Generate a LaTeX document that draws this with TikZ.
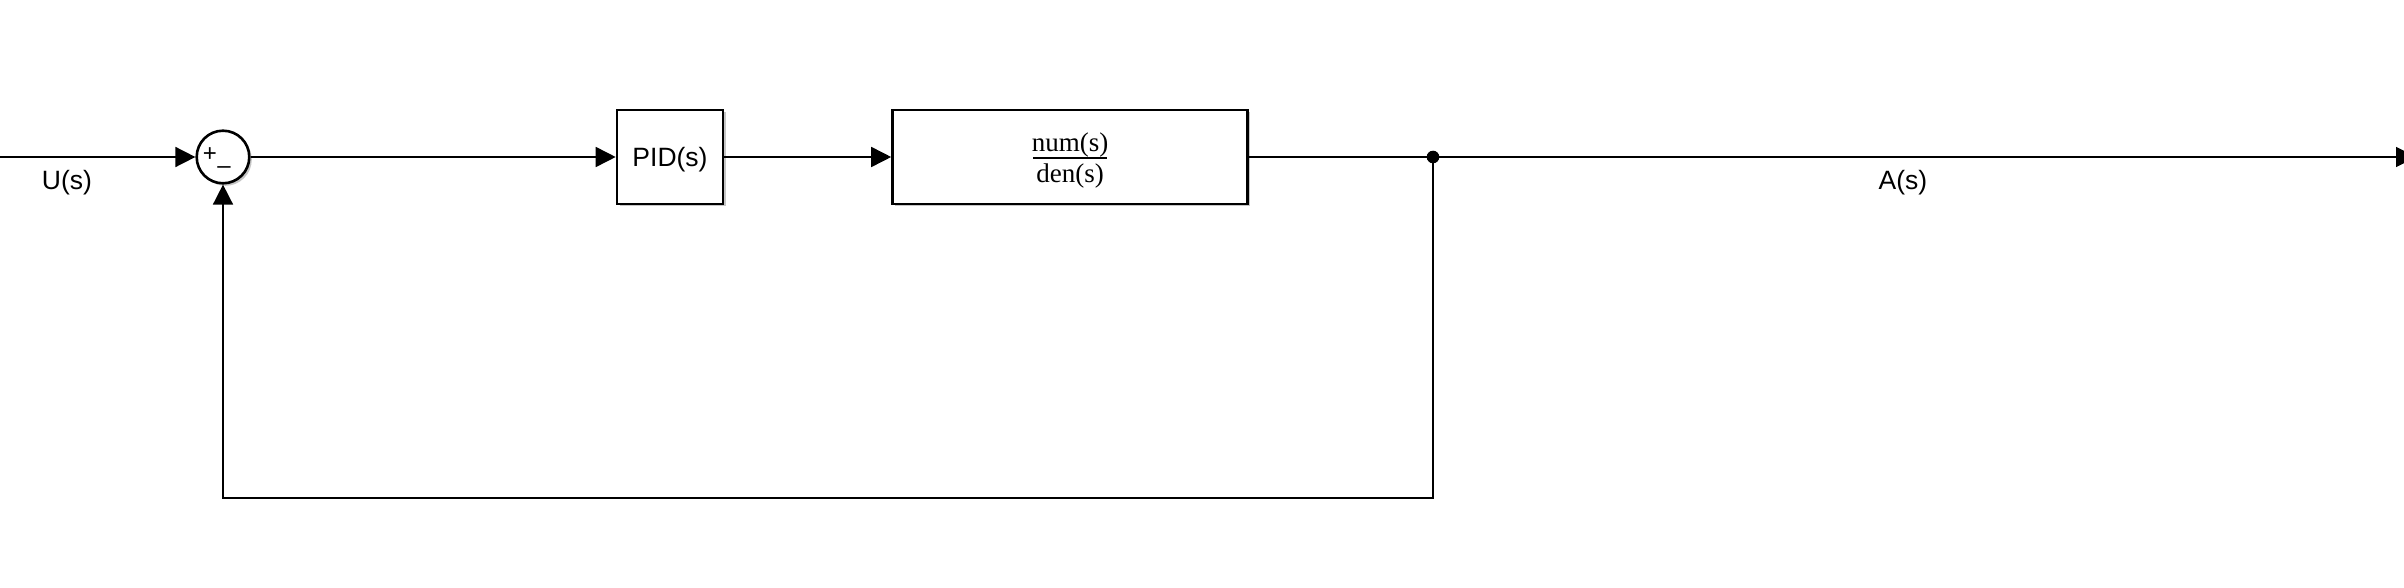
\documentclass[tikz,border=0pt]{standalone}
\usepackage{fontspec}
\setmainfont{Liberation Sans}
\newfontfamily\seriffam{Liberation Serif}
\usetikzlibrary{arrows.meta,shadows}
\begin{document}
\begin{tikzpicture}[x=1pt,y=-1pt,
  wire/.style={line width=1.6pt},
  arr/.style={wire,-{Triangle[length=20pt,width=20pt]}},
  blockbox/.style={draw,line width=2.6pt,fill=white,
    drop shadow={shadow xshift=2.5pt,shadow yshift=-2.5pt,opacity=0.45,fill=gray}},
  lbl/.style={font=\fontsize{26.5}{30}\selectfont},
  frac/.style={font=\seriffam\fontsize{27}{30}\selectfont,inner sep=0pt}]
\useasboundingbox (0,0) rectangle (2404,588);
\node[blockbox,circle,minimum size=52.6pt,inner sep=0pt] (sum) at (223,157) {};
\node[font=\fontsize{24}{26}\selectfont,inner sep=0pt] (plus) at (210,155) {+};
\node[font=\fontsize{24}{26}\selectfont,inner sep=0pt] (minus) at (224,170) {–};
\node[blockbox,minimum width=106pt,minimum height=94pt] (pid) at (670,157) {};
\node[lbl,anchor=base] (pidt) at (670,167) {PID(s)};
\node[blockbox,minimum width=355pt,minimum height=94pt] (tf) at (1070,157) {};
\node[frac,anchor=base] (num) at (1070,152) {num(s)};
\node[frac,anchor=base] (den) at (1070,183) {den(s)};
\draw[line width=1.6pt] (1033,158) -- (1107,158);
\coordinate (in) at (0,157);
\coordinate (j) at (1433,157);
\coordinate (out) at (2416,157);
\coordinate (fb) at (223,498);
\draw[arr] (in) -- (sum.west);
\draw[arr] (sum.east) -- (pid.west);
\draw[arr] (pid.east) -- (tf.west);
\draw[wire] (tf.east) -- (j);
\draw[arr] (j) -- (out);
\draw[arr] (j) |- (fb) -- (sum.south);
\fill (j) circle (6.3pt);
\node[lbl,anchor=base] (ul) at (67,190) {U(s)};
\node[lbl,anchor=base] (al) at (1903,190) {A(s)};
\end{tikzpicture}
\end{document}
